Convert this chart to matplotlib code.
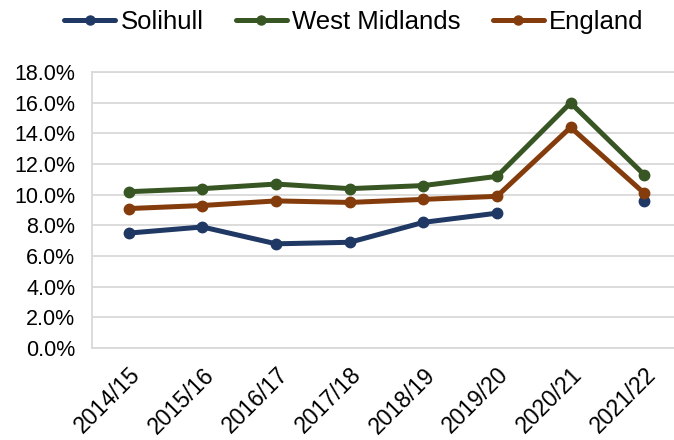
import matplotlib
matplotlib.use("Agg")
import matplotlib.pyplot as plt
import numpy as np
from matplotlib.ticker import FuncFormatter

years = ["2014/15", "2015/16", "2016/17", "2017/18", "2018/19", "2019/20", "2020/21", "2021/22"]
solihull = [7.5, 7.9, 6.8, 6.9, 8.2, 8.8, np.nan, 9.6]
west_midlands = [10.2, 10.4, 10.7, 10.4, 10.6, 11.2, 16.0, 11.3]
england = [9.1, 9.3, 9.6, 9.5, 9.7, 9.9, 14.4, 10.1]

plt.rcParams["font.family"] = ["Liberation Sans", "DejaVu Sans"]

fig = plt.figure(figsize=(6.74, 4.40), dpi=100)
ax = fig.add_axes([0.1365, 0.209, 0.874, 0.627])

x = np.arange(len(years))
series = [
    ("Solihull", solihull, "#1F3864"),
    ("West Midlands", west_midlands, "#375623"),
    ("England", england, "#843C0C"),
]
for name, vals, col in series:
    ax.plot(x, vals, color=col, lw=3.6, marker="o", ms=7.5, label=name,
            solid_capstyle="round")

ax.set_xlim(-0.5, len(years) - 0.5)
ax.set_ylim(0, 18)
ax.set_yticks(np.arange(0, 18.1, 2))
ax.yaxis.set_major_formatter(FuncFormatter(lambda v, p: f"{v:.1f}%"))
ax.set_xticks(x)
ax.set_xticklabels(years, rotation=45, ha="right", rotation_mode="anchor")
ax.tick_params(axis="both", length=0, colors="#000000")
ax.tick_params(axis="y", pad=12, labelsize=15.5)
ax.tick_params(axis="x", pad=11, labelsize=16.5)
ax.grid(axis="y", color="#D9D9D9", lw=1.3)
ax.set_axisbelow(True)
for s in ax.spines.values():
    s.set_color("#D9D9D9")
    s.set_linewidth(1.3)

leg = fig.legend(loc="center", bbox_to_anchor=(0.525, 0.95), ncol=3, frameon=False,
                 fontsize=18.5, handlelength=2.0, handletextpad=0.2,
                 columnspacing=1.25, borderaxespad=0)
for ln in leg.get_lines():
    ln.set_markersize(6.5)

fig.savefig("out.png", dpi=100)
